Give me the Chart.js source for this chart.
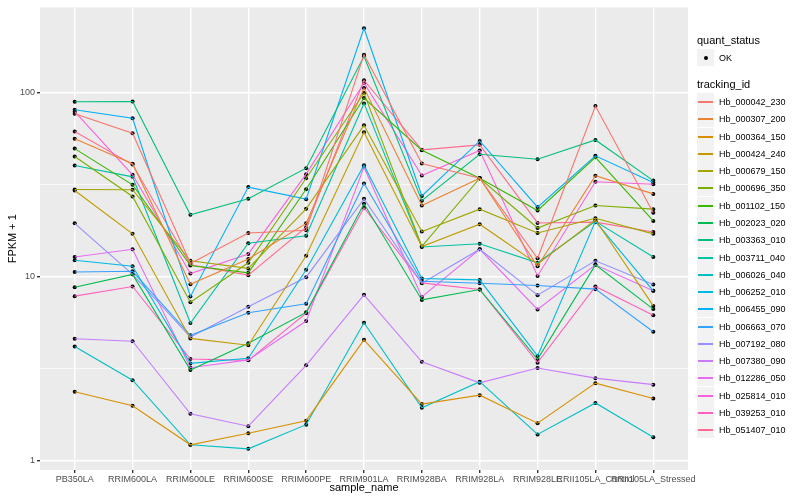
<!DOCTYPE html>
<html>
<head>
<meta charset="utf-8">
<script src="https://cdn.jsdelivr.net/npm/chart.js@4/dist/chart.umd.min.js"></script>
<style>
  body { margin: 0; background: #ffffff; font-family: "Liberation Sans", Arial, sans-serif; }
  #wrap { position: relative; width: 800px; height: 500px; }
  #legend { position: absolute; left: 0; top: 0; width: 800px; height: 500px; pointer-events: none; }
  .ltitle { position: absolute; left: 697px; font-size: 11px; color: #000; line-height: 12px; }
  .lrow { position: absolute; left: 697px; height: 17px; display: flex; align-items: center; font-size: 9px; color: #000; }
  .lkey { position: relative; width: 17px; height: 17px; background: #f2f2f2; margin-right: 5px; }
  .lkey .ln { position: absolute; left: 1px; right: 1px; top: 8px; height: 1.5px; }
  .lkey .dot { position: absolute; left: 6.5px; top: 6.5px; width: 4px; height: 4px; border-radius: 50%; background: #000; }
</style>
</head>
<body>
<div id="wrap">
  <canvas id="fpkmChart" width="800" height="500"></canvas>
  <div id="legend"></div>
</div>
<script>
// Samples along the x axis
const categories = [
  "PB350LA", "RRIM600LA", "RRIM600LE", "RRIM600SE", "RRIM600PE", "RRIM901LA",
  "RRIM928BA", "RRIM928LA", "RRIM928LE", "RRII105LA_Control", "RRII105LA_Stressed",
];

const trackingIds = [
  "Hb_000042_230", "Hb_000307_200", "Hb_000364_150", "Hb_000424_240", "Hb_000679_150",
  "Hb_000696_350", "Hb_001102_150", "Hb_002023_020", "Hb_003363_010", "Hb_003711_040",
  "Hb_006026_040", "Hb_006252_010", "Hb_006455_090", "Hb_006663_070", "Hb_007192_080",
  "Hb_007380_090", "Hb_012286_050", "Hb_025814_010", "Hb_039253_010", "Hb_051407_010",
];

const seriesColors = [
  "#F8766D", "#EA8331", "#D89000", "#C09B00", "#A3A500", "#7CAE00", "#39B600",
  "#00BB4E", "#00BF7D", "#00C1A3", "#00BFC4", "#00BAE0", "#00B0F6", "#35A2FF",
  "#9590FF", "#C77CFF", "#E76BF3", "#FA62DB", "#FF62BC", "#FF6C91",
];

// FPKM + 1, one value per sample
const hb000042_230 = [76.9, 60.2, 11.8, 17.3, 17.9, 161, 41.2, 34.3, 12.6, 84.7, 22.3];
const hb000307_200 = [56.3, 41.1, 9.11, 12.5, 19.5, 106, 24.4, 34.3, 11.4, 35.4, 28.2];
const hb000364_150 = [2.37, 1.99, 1.22, 1.41, 1.65, 4.54, 2.03, 2.27, 1.60, 2.64, 2.18];
const hb000424_240 = [29.4, 17.1, 4.62, 4.24, 13.0, 60.9, 14.6, 19.3, 11.7, 20.4, 6.94];
const hb000679_150 = [29.8, 29.7, 12.2, 11.1, 23.4, 66.5, 17.6, 23.3, 17.3, 20.8, 17.1];
const hb000696_350 = [45.0, 27.3, 7.27, 11.9, 34.3, 99.6, 14.6, 34.3, 18.4, 24.4, 23.3];
const hb001102_150 = [49.7, 31.6, 11.5, 10.5, 29.9, 93.6, 48.7, 34.3, 22.9, 44.6, 20.1];
const hb002023_020 = [8.77, 10.3, 3.11, 4.35, 6.40, 24.9, 7.48, 8.52, 3.56, 11.6, 6.67];
const hb003363_010 = [89.4, 89.7, 21.7, 26.5, 38.9, 158, 25.9, 46.3, 43.5, 55.4, 33.3];
const hb003711_040 = [40.2, 34.9, 5.60, 15.2, 16.7, 87.5, 14.5, 15.1, 11.9, 20.0, 12.8];
const hb006026_040 = [4.18, 2.74, 1.22, 1.16, 1.57, 5.62, 1.94, 2.69, 1.39, 2.06, 1.34];
const hb006252_010 = [12.3, 11.4, 3.38, 3.60, 10.9, 40.4, 9.78, 9.61, 3.71, 20.0, 8.38];
const hb006455_090 = [80.9, 72.6, 7.81, 30.7, 26.4, 224, 27.5, 54.7, 23.9, 45.4, 32.5];
const hb006663_070 = [10.6, 10.7, 4.80, 6.37, 7.12, 32.1, 9.45, 9.22, 8.96, 8.56, 5.02];
const hb007192_080 = [19.5, 10.3, 4.70, 6.86, 9.94, 26.5, 9.22, 14.1, 7.94, 12.2, 9.07];
const hb007380_090 = [4.60, 4.46, 1.80, 1.54, 3.30, 7.97, 3.45, 2.65, 3.19, 2.81, 2.59];
const hb012286_050 = [12.8, 14.1, 3.20, 3.53, 5.74, 39.4, 7.77, 14.1, 6.64, 11.6, 8.38];
const hb025814_010 = [78.9, 35.8, 10.4, 13.3, 36.1, 113, 35.5, 48.5, 10.1, 32.8, 31.8];
const hb039253_010 = [7.84, 8.85, 3.57, 3.51, 6.34, 23.7, 9.26, 8.52, 3.41, 8.85, 6.18];
const hb051407_010 = [61.5, 40.7, 11.6, 10.2, 18.6, 117, 48.9, 52.1, 19.6, 19.8, 17.5];

const seriesValues = [
  hb000042_230, hb000307_200, hb000364_150, hb000424_240, hb000679_150,
  hb000696_350, hb001102_150, hb002023_020, hb003363_010, hb003711_040,
  hb006026_040, hb006252_010, hb006455_090, hb006663_070, hb007192_080,
  hb007380_090, hb012286_050, hb025814_010, hb039253_010, hb051407_010,
];

// log axis breaks
const yMajorTicks = [1, 10, 100];
const yMinorTicks = [3.162, 31.62];

// one line per gene
const datasets = seriesValues.map(function (vals, i) {
  return {
    label: trackingIds[i],
    data: vals.map(function (v, j) { return { x: j, y: v }; }),
    borderColor: seriesColors[i],
    backgroundColor: seriesColors[i],
    borderWidth: 1.1,
    pointRadius: 0,
    tension: 0,
    fill: false,
  };
});

// all points on top of the lines (quant_status = OK)
datasets.push({
  label: "OK",
  data: seriesValues.flatMap(function (vals) {
    return vals.map(function (v, j) { return { x: j, y: v }; });
  }),
  showLine: false,
  pointRadius: 2,
  pointBackgroundColor: "#000000",
  pointBorderWidth: 0,
});

const isMajor = function (v) { return yMajorTicks.indexOf(v) !== -1; };

const panelBackground = {
  id: "panelBackground",
  beforeDraw: function (chart) {
    const a = chart.chartArea;
    const c = chart.ctx;
    c.save();
    c.fillStyle = "#ebebeb";
    c.fillRect(a.left, a.top, a.right - a.left, a.bottom - a.top);
    c.restore();
  },
};

const ctx = document.getElementById("fpkmChart").getContext("2d");
const fpkmChart = new Chart(ctx, {
  type: "line",
  data: { datasets: datasets },
  options: {
    responsive: false,
    animation: false,
    layout: { padding: { top: 5, right: 112, left: 0, bottom: 0 } },
    plugins: {
      legend: { display: false },
      tooltip: { enabled: false },
    },
    scales: {
      x: {
        type: "linear",
        min: -0.6,
        max: 10.6,
        afterBuildTicks: function (axis) {
          axis.ticks = categories.map(function (c, i) { return { value: i }; });
        },
        afterFit: function (axis) { axis.height = 30; },
        ticks: {
          autoSkip: false,
          maxRotation: 0,
          minRotation: 0,
          padding: 1,
          color: "#4d4d4d",
          font: { family: "Liberation Sans", size: 9 },
          callback: function (v) { return categories[v]; },
        },
        grid: {
          color: "#ffffff",
          lineWidth: 1.4,
          tickColor: "#333333",
          tickLength: 3,
        },
        border: { display: false },
        title: {
          display: true,
          text: "sample_name",
          color: "#000000",
          padding: { top: 0, bottom: 5 },
          font: { family: "Liberation Sans", size: 11 },
        },
      },
      y: {
        type: "logarithmic",
        min: 0.89,
        max: 291,
        afterBuildTicks: function (axis) {
          axis.ticks = yMajorTicks.concat(yMinorTicks)
            .sort(function (a, b) { return a - b; })
            .map(function (v) { return { value: v }; });
        },
        afterFit: function (axis) { axis.width = 40; },
        ticks: {
          autoSkip: false,
          padding: 2,
          color: "#4d4d4d",
          font: { family: "Liberation Sans", size: 9 },
          callback: function (v) { return isMajor(v) ? String(v) : ""; },
        },
        grid: {
          color: "#ffffff",
          lineWidth: function (c) { return c.tick && isMajor(c.tick.value) ? 1.4 : 0.7; },
          tickColor: function (c) { return c.tick && isMajor(c.tick.value) ? "#333333" : "rgba(0,0,0,0)"; },
          tickLength: 3,
        },
        border: { display: false },
        title: {
          display: true,
          text: "FPKM + 1",
          color: "#000000",
          padding: { top: 6, bottom: 0 },
          font: { family: "Liberation Sans", size: 11 },
        },
      },
    },
  },
  plugins: [panelBackground],
});

// Legend (ggplot style, two guides)
const legend = document.getElementById("legend");

function addTitle(text, top) {
  const t = document.createElement("div");
  t.className = "ltitle";
  t.style.top = top + "px";
  t.textContent = text;
  legend.appendChild(t);
}

function addRow(top, label, color, withDot) {
  const row = document.createElement("div");
  row.className = "lrow";
  row.style.top = top + "px";
  const key = document.createElement("div");
  key.className = "lkey";
  const mark = document.createElement("div");
  if (withDot) {
    mark.className = "dot";
  } else {
    mark.className = "ln";
    mark.style.background = color;
  }
  key.appendChild(mark);
  row.appendChild(key);
  const span = document.createElement("span");
  span.textContent = label;
  row.appendChild(span);
  legend.appendChild(row);
}

addTitle("quant_status", 34);
addRow(49, "OK", "#000", true);
addTitle("tracking_id", 78);
trackingIds.forEach(function (id, i) {
  addRow(Math.round(93 + i * 17.28), id, seriesColors[i], false);
});
</script>
</body>
</html>
